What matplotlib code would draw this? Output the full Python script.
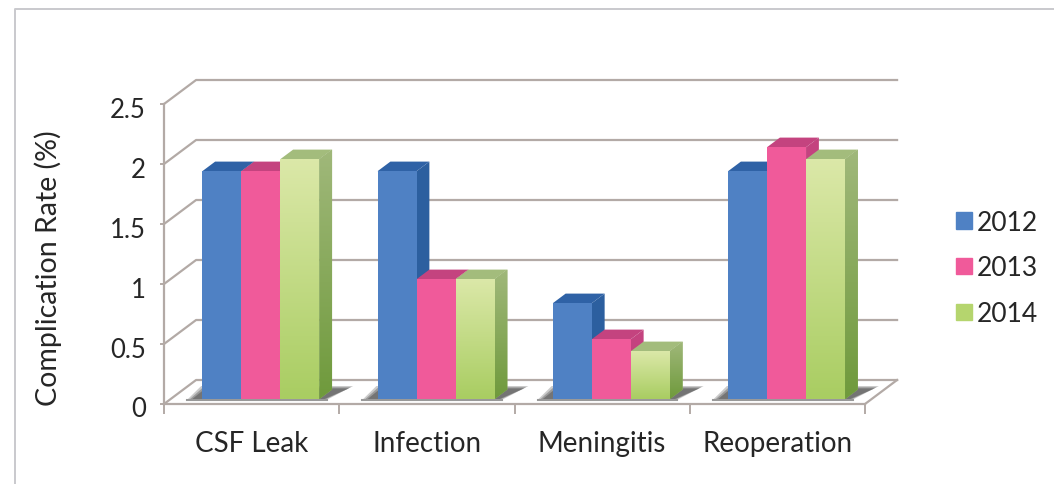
import matplotlib
matplotlib.use('Agg')
import matplotlib.pyplot as plt
import numpy as np
from matplotlib.colors import to_rgb
from matplotlib.lines import Line2D
from matplotlib.patches import Patch
from matplotlib.transforms import ScaledTranslation

categories = ['CSF Leak', 'Infection', 'Meningitis', 'Reoperation']
years = ['2012', '2013', '2014']
rate_2012 = [1.9, 1.9, 0.8, 1.9]
rate_2013 = [1.9, 1.0, 0.5, 2.1]
rate_2014 = [2.0, 1.0, 0.4, 2.0]
y_ticks = [0, 0.5, 1, 1.5, 2, 2.5]
y_labels = ['0', '0.5', '1', '1.5', '2', '2.5']

# depth of the fake 3d box, in data units
DX = 0.183
DY = 0.2
BAR_W = 0.2225
BAR_START = 0.182

GRID = '#b3aaa6'
TXT = '#262626'

# front, top, side colours (top, bottom of gradient for front and side)
styles = [
    {'front': ('#4f81c4', '#4f81c4'), 'top': '#2f62a6', 'side': ('#2c5f9f', '#2c5f9f')},
    {'front': ('#f05a9a', '#f05a9a'), 'top': '#c4437f', 'side': ('#c4437f', '#c4437f')},
    {'front': ('#dbe8a8', '#a9cd62'), 'top': '#a3bc7c', 'side': ('#a0b87a', '#6f9a3c')},
]

plt.rcParams['font.family'] = 'Lato'

fig = plt.figure(figsize=(10.54, 4.85), dpi=100)
ax = fig.add_axes([164/1054, 80/485, 701/1054, 300/485])
ax.patch.set_alpha(0)


def grad_fill(verts, top_col, bot_col, z):
    poly = ax.fill(*zip(*verts), color=top_col, lw=0, zorder=z, clip_on=False)[0]
    if top_col == bot_col:
        return
    xs, ys = zip(*verts)
    t = np.linspace(0, 1, 64)[:, None, None]
    grad = (1 - t) * np.array(to_rgb(top_col)) + t * np.array(to_rgb(bot_col))
    im = ax.imshow(grad, extent=[min(xs), max(xs), min(ys), max(ys)], aspect='auto',
                   zorder=z + 0.01, interpolation='bilinear')
    im.set_clip_path(poly)


def draw_bar(x, v, st, z):
    # x is the front left corner, bar stands a bit inside the floor
    x0 = x + 0.2*DX
    x1 = x0 + BAR_W
    y0 = 0.2*DY
    y1 = y0 + v
    ddx = 0.4*DX
    ddy = 0.4*DY
    grad_fill([(x1, y0), (x1 + ddx, y0 + ddy), (x1 + ddx, y1 + ddy), (x1, y1)],
              st['side'][0], st['side'][1], z)
    ax.fill([x0, x1, x1 + ddx, x0 + ddx], [y1, y1, y1 + ddy, y1 + ddy],
            color=st['top'], lw=0, zorder=z, clip_on=False)
    grad_fill([(x0, y0), (x1, y0), (x1, y1), (x0, y1)], st['front'][0], st['front'][1], z + 0.02)


# walls and floor
for v in y_ticks:
    ax.plot([0, DX, 4 + DX], [v, v + DY, v + DY], color=GRID, lw=1.6, zorder=1, clip_on=False)
ax.plot([4, 4 + DX], [0, DY], color=GRID, lw=1.6, zorder=1, clip_on=False)

series = [rate_2012, rate_2013, rate_2014]
for i in range(len(categories)):
    # shadow on the floor
    left = i + BAR_START - 0.05
    right = i + BAR_START + 3*BAR_W + 0.08
    for k, a in enumerate([0.3, 0.4, 0.55]):
        s = k*0.012
        ax.fill([left + s, right - s, right + 0.15 - s, left + 0.08 + s],
                [0.035, 0.035, 0.15 - k*0.01, 0.15 - k*0.01],
                color='#555555', alpha=a, lw=0, zorder=2, clip_on=False)
    ax.plot([left, right], [0.03, 0.03], color='#999999', lw=1.5, zorder=2, clip_on=False)
    for j in range(3):
        draw_bar(i + BAR_START + j*BAR_W, series[j][i], styles[j], 3 + j*0.1 + i)

ax.set_xlim(0, 4)
ax.set_ylim(0, 2.5)

for s in ['top', 'right']:
    ax.spines[s].set_visible(False)
for s in ['left', 'bottom']:
    ax.spines[s].set_color(GRID)
    ax.spines[s].set_linewidth(1.6)

ax.set_yticks(y_ticks)
ax.set_yticklabels(y_labels, fontsize=18.5, color=TXT)
ax.set_xticks([0.5, 1.5, 2.5, 3.5])
ax.set_xticklabels(categories, fontsize=20, color=TXT)
ax.set_xticks([0, 1, 2, 3, 4], minor=True)
ax.tick_params(axis='x', which='major', length=0, pad=19)
ax.tick_params(axis='x', which='minor', length=7, width=1.4, color=GRID)
ax.tick_params(axis='y', length=3, width=1.4, color=GRID, pad=10)
# labels sit a little under their ticks in the original
shift = ScaledTranslation(0, -2.5/100, fig.dpi_scale_trans)
for lab in ax.get_yticklabels():
    lab.set_transform(lab.get_transform() + shift)
ax.set_ylabel('Complication Rate (%)', fontsize=20.5, color=TXT)
ax.yaxis.set_label_coords(-102/701, 0.455)

handles = [Patch(color=c, label=y) for c, y in zip(['#4f81c4', '#f05a9a', '#b5d56e'], years)]
fig.legend(handles=handles, loc='center left', bbox_to_anchor=(938/1054, 1 - 269/485),
           frameon=False, fontsize=19, handlelength=0.58, handleheight=0.58,
           handletextpad=0.2, labelspacing=0.78, labelcolor=TXT, borderpad=0.2)

# page frame
fig.add_artist(Line2D([15/1054, 15/1054, 1], [0, 1 - 10/485, 1 - 10/485], color='#c9c9cd', lw=1.4))

fig.savefig('out.png', dpi=100)
